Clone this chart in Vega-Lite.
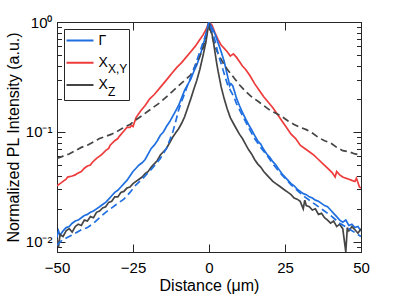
{
"$schema": "https://vega.github.io/schema/vega-lite/v6.json",
"width": 304, "height": 230,
"autosize": {"type": "none"},
"padding": {"left": 57, "top": 22, "right": 38, "bottom": 48},
"config": {
  "font": "Liberation Sans",
  "view": {"stroke": "#262626", "strokeWidth": 1},
  "axis": {"domainColor": "#262626", "tickColor": "#262626", "tickWidth": 1, "labelColor": "#000000", "titleColor": "#000000", "grid": false, "labelFontSize": 15, "titleFontSize": 16, "titleFontWeight": "normal"}
},
"data": {"values": [
{"distance":-50,"intensity":0.0324,"series":"X_X,Y","kind":"measured"},
{"distance":-49,"intensity":0.0339,"series":"X_X,Y","kind":"measured"},
{"distance":-48,"intensity":0.0355,"series":"X_X,Y","kind":"measured"},
{"distance":-47,"intensity":0.0372,"series":"X_X,Y","kind":"measured"},
{"distance":-46.5,"intensity":0.0389,"series":"X_X,Y","kind":"measured"},
{"distance":-45,"intensity":0.0398,"series":"X_X,Y","kind":"measured"},
{"distance":-44,"intensity":0.0407,"series":"X_X,Y","kind":"measured"},
{"distance":-43.5,"intensity":0.0417,"series":"X_X,Y","kind":"measured"},
{"distance":-42,"intensity":0.0437,"series":"X_X,Y","kind":"measured"},
{"distance":-41,"intensity":0.0468,"series":"X_X,Y","kind":"measured"},
{"distance":-40,"intensity":0.0490,"series":"X_X,Y","kind":"measured"},
{"distance":-39,"intensity":0.0501,"series":"X_X,Y","kind":"measured"},
{"distance":-38.5,"intensity":0.0525,"series":"X_X,Y","kind":"measured"},
{"distance":-37,"intensity":0.0575,"series":"X_X,Y","kind":"measured"},
{"distance":-36,"intensity":0.0603,"series":"X_X,Y","kind":"measured"},
{"distance":-35.5,"intensity":0.0617,"series":"X_X,Y","kind":"measured"},
{"distance":-34,"intensity":0.0676,"series":"X_X,Y","kind":"measured"},
{"distance":-33,"intensity":0.0708,"series":"X_X,Y","kind":"measured"},
{"distance":-32.5,"intensity":0.0759,"series":"X_X,Y","kind":"measured"},
{"distance":-31,"intensity":0.0832,"series":"X_X,Y","kind":"measured"},
{"distance":-30,"intensity":0.0871,"series":"X_X,Y","kind":"measured"},
{"distance":-29.5,"intensity":0.0912,"series":"X_X,Y","kind":"measured"},
{"distance":-28,"intensity":0.102,"series":"X_X,Y","kind":"measured"},
{"distance":-27,"intensity":0.110,"series":"X_X,Y","kind":"measured"},
{"distance":-26,"intensity":0.110,"series":"X_X,Y","kind":"measured"},
{"distance":-25.5,"intensity":0.115,"series":"X_X,Y","kind":"measured"},
{"distance":-25,"intensity":0.112,"series":"X_X,Y","kind":"measured"},
{"distance":-24,"intensity":0.135,"series":"X_X,Y","kind":"measured"},
{"distance":-22.5,"intensity":0.155,"series":"X_X,Y","kind":"measured"},
{"distance":-21,"intensity":0.174,"series":"X_X,Y","kind":"measured"},
{"distance":-19.5,"intensity":0.200,"series":"X_X,Y","kind":"measured"},
{"distance":-18,"intensity":0.219,"series":"X_X,Y","kind":"measured"},
{"distance":-16.5,"intensity":0.245,"series":"X_X,Y","kind":"measured"},
{"distance":-15,"intensity":0.275,"series":"X_X,Y","kind":"measured"},
{"distance":-13.5,"intensity":0.309,"series":"X_X,Y","kind":"measured"},
{"distance":-12,"intensity":0.347,"series":"X_X,Y","kind":"measured"},
{"distance":-10.5,"intensity":0.389,"series":"X_X,Y","kind":"measured"},
{"distance":-9,"intensity":0.427,"series":"X_X,Y","kind":"measured"},
{"distance":-7.5,"intensity":0.479,"series":"X_X,Y","kind":"measured"},
{"distance":-6,"intensity":0.537,"series":"X_X,Y","kind":"measured"},
{"distance":-4.5,"intensity":0.603,"series":"X_X,Y","kind":"measured"},
{"distance":-3,"intensity":0.692,"series":"X_X,Y","kind":"measured"},
{"distance":-2,"intensity":0.759,"series":"X_X,Y","kind":"measured"},
{"distance":-1,"intensity":0.851,"series":"X_X,Y","kind":"measured"},
{"distance":0,"intensity":1,"series":"X_X,Y","kind":"measured"},
{"distance":1,"intensity":0.933,"series":"X_X,Y","kind":"measured"},
{"distance":2,"intensity":0.794,"series":"X_X,Y","kind":"measured"},
{"distance":3,"intensity":0.692,"series":"X_X,Y","kind":"measured"},
{"distance":4,"intensity":0.617,"series":"X_X,Y","kind":"measured"},
{"distance":5,"intensity":0.575,"series":"X_X,Y","kind":"measured"},
{"distance":6,"intensity":0.537,"series":"X_X,Y","kind":"measured"},
{"distance":7,"intensity":0.490,"series":"X_X,Y","kind":"measured"},
{"distance":8,"intensity":0.513,"series":"X_X,Y","kind":"measured"},
{"distance":9,"intensity":0.479,"series":"X_X,Y","kind":"measured"},
{"distance":10,"intensity":0.437,"series":"X_X,Y","kind":"measured"},
{"distance":11,"intensity":0.398,"series":"X_X,Y","kind":"measured"},
{"distance":12,"intensity":0.372,"series":"X_X,Y","kind":"measured"},
{"distance":13.5,"intensity":0.324,"series":"X_X,Y","kind":"measured"},
{"distance":15,"intensity":0.275,"series":"X_X,Y","kind":"measured"},
{"distance":16.5,"intensity":0.240,"series":"X_X,Y","kind":"measured"},
{"distance":18,"intensity":0.209,"series":"X_X,Y","kind":"measured"},
{"distance":19.5,"intensity":0.186,"series":"X_X,Y","kind":"measured"},
{"distance":21,"intensity":0.166,"series":"X_X,Y","kind":"measured"},
{"distance":22.5,"intensity":0.145,"series":"X_X,Y","kind":"measured"},
{"distance":24,"intensity":0.126,"series":"X_X,Y","kind":"measured"},
{"distance":25.5,"intensity":0.110,"series":"X_X,Y","kind":"measured"},
{"distance":27,"intensity":0.0955,"series":"X_X,Y","kind":"measured"},
{"distance":28.5,"intensity":0.0871,"series":"X_X,Y","kind":"measured"},
{"distance":30,"intensity":0.0759,"series":"X_X,Y","kind":"measured"},
{"distance":31.5,"intensity":0.0708,"series":"X_X,Y","kind":"measured"},
{"distance":33,"intensity":0.0661,"series":"X_X,Y","kind":"measured"},
{"distance":34.5,"intensity":0.0617,"series":"X_X,Y","kind":"measured"},
{"distance":36,"intensity":0.0562,"series":"X_X,Y","kind":"measured"},
{"distance":37.5,"intensity":0.0513,"series":"X_X,Y","kind":"measured"},
{"distance":39,"intensity":0.0468,"series":"X_X,Y","kind":"measured"},
{"distance":40.5,"intensity":0.0427,"series":"X_X,Y","kind":"measured"},
{"distance":41.5,"intensity":0.0389,"series":"X_X,Y","kind":"measured"},
{"distance":42,"intensity":0.0437,"series":"X_X,Y","kind":"measured"},
{"distance":43,"intensity":0.0407,"series":"X_X,Y","kind":"measured"},
{"distance":44,"intensity":0.0389,"series":"X_X,Y","kind":"measured"},
{"distance":45,"intensity":0.0380,"series":"X_X,Y","kind":"measured"},
{"distance":46,"intensity":0.0372,"series":"X_X,Y","kind":"measured"},
{"distance":47,"intensity":0.0363,"series":"X_X,Y","kind":"measured"},
{"distance":48,"intensity":0.0355,"series":"X_X,Y","kind":"measured"},
{"distance":48.5,"intensity":0.0380,"series":"X_X,Y","kind":"measured"},
{"distance":49.5,"intensity":0.0316,"series":"X_X,Y","kind":"measured"},
{"distance":50,"intensity":0.0309,"series":"X_X,Y","kind":"measured"},

{"distance":-50,"intensity":0.0575,"series":"X_Z","kind":"fit"},
{"distance":-48,"intensity":0.0603,"series":"X_Z","kind":"fit"},
{"distance":-46,"intensity":0.0631,"series":"X_Z","kind":"fit"},
{"distance":-44,"intensity":0.0676,"series":"X_Z","kind":"fit"},
{"distance":-42,"intensity":0.0724,"series":"X_Z","kind":"fit"},
{"distance":-40,"intensity":0.0759,"series":"X_Z","kind":"fit"},
{"distance":-38,"intensity":0.0813,"series":"X_Z","kind":"fit"},
{"distance":-36,"intensity":0.0871,"series":"X_Z","kind":"fit"},
{"distance":-34,"intensity":0.0912,"series":"X_Z","kind":"fit"},
{"distance":-32,"intensity":0.0955,"series":"X_Z","kind":"fit"},
{"distance":-30,"intensity":0.102,"series":"X_Z","kind":"fit"},
{"distance":-28,"intensity":0.110,"series":"X_Z","kind":"fit"},
{"distance":-26,"intensity":0.117,"series":"X_Z","kind":"fit"},
{"distance":-24,"intensity":0.129,"series":"X_Z","kind":"fit"},
{"distance":-22,"intensity":0.141,"series":"X_Z","kind":"fit"},
{"distance":-20,"intensity":0.155,"series":"X_Z","kind":"fit"},
{"distance":-18,"intensity":0.170,"series":"X_Z","kind":"fit"},
{"distance":-16,"intensity":0.186,"series":"X_Z","kind":"fit"},
{"distance":-14,"intensity":0.209,"series":"X_Z","kind":"fit"},
{"distance":-12,"intensity":0.234,"series":"X_Z","kind":"fit"},
{"distance":-10,"intensity":0.263,"series":"X_Z","kind":"fit"},
{"distance":-8,"intensity":0.295,"series":"X_Z","kind":"fit"},
{"distance":-6,"intensity":0.331,"series":"X_Z","kind":"fit"},
{"distance":-4,"intensity":0.427,"series":"X_Z","kind":"fit"},
{"distance":-3,"intensity":0.490,"series":"X_Z","kind":"fit"},
{"distance":-2,"intensity":0.575,"series":"X_Z","kind":"fit"},
{"distance":-1,"intensity":0.724,"series":"X_Z","kind":"fit"},
{"distance":-0.5,"intensity":0.832,"series":"X_Z","kind":"fit"},
{"distance":0,"intensity":1,"series":"X_Z","kind":"fit"},
{"distance":0.5,"intensity":0.851,"series":"X_Z","kind":"fit"},
{"distance":1,"intensity":0.741,"series":"X_Z","kind":"fit"},
{"distance":2,"intensity":0.603,"series":"X_Z","kind":"fit"},
{"distance":3,"intensity":0.513,"series":"X_Z","kind":"fit"},
{"distance":4,"intensity":0.457,"series":"X_Z","kind":"fit"},
{"distance":5,"intensity":0.407,"series":"X_Z","kind":"fit"},
{"distance":6,"intensity":0.372,"series":"X_Z","kind":"fit"},
{"distance":8,"intensity":0.316,"series":"X_Z","kind":"fit"},
{"distance":10,"intensity":0.269,"series":"X_Z","kind":"fit"},
{"distance":12,"intensity":0.234,"series":"X_Z","kind":"fit"},
{"distance":14,"intensity":0.209,"series":"X_Z","kind":"fit"},
{"distance":16,"intensity":0.191,"series":"X_Z","kind":"fit"},
{"distance":18,"intensity":0.174,"series":"X_Z","kind":"fit"},
{"distance":20,"intensity":0.158,"series":"X_Z","kind":"fit"},
{"distance":22,"intensity":0.148,"series":"X_Z","kind":"fit"},
{"distance":24,"intensity":0.138,"series":"X_Z","kind":"fit"},
{"distance":26,"intensity":0.126,"series":"X_Z","kind":"fit"},
{"distance":28,"intensity":0.117,"series":"X_Z","kind":"fit"},
{"distance":30,"intensity":0.110,"series":"X_Z","kind":"fit"},
{"distance":32,"intensity":0.105,"series":"X_Z","kind":"fit"},
{"distance":34,"intensity":0.0977,"series":"X_Z","kind":"fit"},
{"distance":36,"intensity":0.0891,"series":"X_Z","kind":"fit"},
{"distance":38,"intensity":0.0832,"series":"X_Z","kind":"fit"},
{"distance":40,"intensity":0.0794,"series":"X_Z","kind":"fit"},
{"distance":42,"intensity":0.0724,"series":"X_Z","kind":"fit"},
{"distance":44,"intensity":0.0676,"series":"X_Z","kind":"fit"},
{"distance":46,"intensity":0.0661,"series":"X_Z","kind":"fit"},
{"distance":48,"intensity":0.0631,"series":"X_Z","kind":"fit"},
{"distance":50,"intensity":0.0617,"series":"X_Z","kind":"fit"},

{"distance":-50,"intensity":0.0110,"series":"Γ","kind":"measured"},
{"distance":-49.5,"intensity":0.0126,"series":"Γ","kind":"measured"},
{"distance":-49,"intensity":0.0115,"series":"Γ","kind":"measured"},
{"distance":-48,"intensity":0.0126,"series":"Γ","kind":"measured"},
{"distance":-47,"intensity":0.0135,"series":"Γ","kind":"measured"},
{"distance":-46,"intensity":0.0138,"series":"Γ","kind":"measured"},
{"distance":-45,"intensity":0.0148,"series":"Γ","kind":"measured"},
{"distance":-44,"intensity":0.0155,"series":"Γ","kind":"measured"},
{"distance":-43,"intensity":0.0158,"series":"Γ","kind":"measured"},
{"distance":-42,"intensity":0.0166,"series":"Γ","kind":"measured"},
{"distance":-41,"intensity":0.0174,"series":"Γ","kind":"measured"},
{"distance":-40,"intensity":0.0178,"series":"Γ","kind":"measured"},
{"distance":-39,"intensity":0.0186,"series":"Γ","kind":"measured"},
{"distance":-38,"intensity":0.0191,"series":"Γ","kind":"measured"},
{"distance":-37,"intensity":0.0200,"series":"Γ","kind":"measured"},
{"distance":-36,"intensity":0.0209,"series":"Γ","kind":"measured"},
{"distance":-35,"intensity":0.0219,"series":"Γ","kind":"measured"},
{"distance":-34,"intensity":0.0229,"series":"Γ","kind":"measured"},
{"distance":-33,"intensity":0.0245,"series":"Γ","kind":"measured"},
{"distance":-32,"intensity":0.0263,"series":"Γ","kind":"measured"},
{"distance":-31,"intensity":0.0282,"series":"Γ","kind":"measured"},
{"distance":-30,"intensity":0.0295,"series":"Γ","kind":"measured"},
{"distance":-29,"intensity":0.0316,"series":"Γ","kind":"measured"},
{"distance":-28,"intensity":0.0339,"series":"Γ","kind":"measured"},
{"distance":-27,"intensity":0.0363,"series":"Γ","kind":"measured"},
{"distance":-26,"intensity":0.0398,"series":"Γ","kind":"measured"},
{"distance":-25,"intensity":0.0437,"series":"Γ","kind":"measured"},
{"distance":-24,"intensity":0.0468,"series":"Γ","kind":"measured"},
{"distance":-23,"intensity":0.0501,"series":"Γ","kind":"measured"},
{"distance":-22,"intensity":0.0525,"series":"Γ","kind":"measured"},
{"distance":-21,"intensity":0.0562,"series":"Γ","kind":"measured"},
{"distance":-20,"intensity":0.0631,"series":"Γ","kind":"measured"},
{"distance":-19,"intensity":0.0708,"series":"Γ","kind":"measured"},
{"distance":-18,"intensity":0.0759,"series":"Γ","kind":"measured"},
{"distance":-17,"intensity":0.0832,"series":"Γ","kind":"measured"},
{"distance":-16,"intensity":0.0933,"series":"Γ","kind":"measured"},
{"distance":-15,"intensity":0.100,"series":"Γ","kind":"measured"},
{"distance":-14,"intensity":0.112,"series":"Γ","kind":"measured"},
{"distance":-13,"intensity":0.123,"series":"Γ","kind":"measured"},
{"distance":-12,"intensity":0.138,"series":"Γ","kind":"measured"},
{"distance":-11,"intensity":0.155,"series":"Γ","kind":"measured"},
{"distance":-10,"intensity":0.174,"series":"Γ","kind":"measured"},
{"distance":-9,"intensity":0.204,"series":"Γ","kind":"measured"},
{"distance":-8,"intensity":0.240,"series":"Γ","kind":"measured"},
{"distance":-7,"intensity":0.269,"series":"Γ","kind":"measured"},
{"distance":-6,"intensity":0.302,"series":"Γ","kind":"measured"},
{"distance":-5,"intensity":0.355,"series":"Γ","kind":"measured"},
{"distance":-4,"intensity":0.407,"series":"Γ","kind":"measured"},
{"distance":-3,"intensity":0.490,"series":"Γ","kind":"measured"},
{"distance":-2,"intensity":0.603,"series":"Γ","kind":"measured"},
{"distance":-1,"intensity":0.776,"series":"Γ","kind":"measured"},
{"distance":0,"intensity":1,"series":"Γ","kind":"measured"},
{"distance":1,"intensity":0.891,"series":"Γ","kind":"measured"},
{"distance":2,"intensity":0.776,"series":"Γ","kind":"measured"},
{"distance":3,"intensity":0.646,"series":"Γ","kind":"measured"},
{"distance":4,"intensity":0.537,"series":"Γ","kind":"measured"},
{"distance":5,"intensity":0.437,"series":"Γ","kind":"measured"},
{"distance":6,"intensity":0.331,"series":"Γ","kind":"measured"},
{"distance":6.8,"intensity":0.263,"series":"Γ","kind":"measured"},
{"distance":7.2,"intensity":0.275,"series":"Γ","kind":"measured"},
{"distance":7.8,"intensity":0.263,"series":"Γ","kind":"measured"},
{"distance":8.5,"intensity":0.229,"series":"Γ","kind":"measured"},
{"distance":9,"intensity":0.204,"series":"Γ","kind":"measured"},
{"distance":10,"intensity":0.174,"series":"Γ","kind":"measured"},
{"distance":11,"intensity":0.151,"series":"Γ","kind":"measured"},
{"distance":12,"intensity":0.132,"series":"Γ","kind":"measured"},
{"distance":13,"intensity":0.117,"series":"Γ","kind":"measured"},
{"distance":14,"intensity":0.105,"series":"Γ","kind":"measured"},
{"distance":15,"intensity":0.0933,"series":"Γ","kind":"measured"},
{"distance":16,"intensity":0.0832,"series":"Γ","kind":"measured"},
{"distance":17,"intensity":0.0776,"series":"Γ","kind":"measured"},
{"distance":18,"intensity":0.0692,"series":"Γ","kind":"measured"},
{"distance":19,"intensity":0.0631,"series":"Γ","kind":"measured"},
{"distance":20,"intensity":0.0589,"series":"Γ","kind":"measured"},
{"distance":21,"intensity":0.0537,"series":"Γ","kind":"measured"},
{"distance":22,"intensity":0.0501,"series":"Γ","kind":"measured"},
{"distance":23,"intensity":0.0457,"series":"Γ","kind":"measured"},
{"distance":24,"intensity":0.0417,"series":"Γ","kind":"measured"},
{"distance":25,"intensity":0.0389,"series":"Γ","kind":"measured"},
{"distance":26,"intensity":0.0363,"series":"Γ","kind":"measured"},
{"distance":27,"intensity":0.0339,"series":"Γ","kind":"measured"},
{"distance":28,"intensity":0.0324,"series":"Γ","kind":"measured"},
{"distance":29,"intensity":0.0302,"series":"Γ","kind":"measured"},
{"distance":30,"intensity":0.0288,"series":"Γ","kind":"measured"},
{"distance":31,"intensity":0.0275,"series":"Γ","kind":"measured"},
{"distance":32,"intensity":0.0269,"series":"Γ","kind":"measured"},
{"distance":33,"intensity":0.0257,"series":"Γ","kind":"measured"},
{"distance":34,"intensity":0.0251,"series":"Γ","kind":"measured"},
{"distance":35,"intensity":0.0240,"series":"Γ","kind":"measured"},
{"distance":36,"intensity":0.0234,"series":"Γ","kind":"measured"},
{"distance":37,"intensity":0.0224,"series":"Γ","kind":"measured"},
{"distance":38,"intensity":0.0214,"series":"Γ","kind":"measured"},
{"distance":39,"intensity":0.0209,"series":"Γ","kind":"measured"},
{"distance":40,"intensity":0.0195,"series":"Γ","kind":"measured"},
{"distance":41,"intensity":0.0182,"series":"Γ","kind":"measured"},
{"distance":42,"intensity":0.0170,"series":"Γ","kind":"measured"},
{"distance":43,"intensity":0.0158,"series":"Γ","kind":"measured"},
{"distance":44,"intensity":0.0151,"series":"Γ","kind":"measured"},
{"distance":45,"intensity":0.0158,"series":"Γ","kind":"measured"},
{"distance":46,"intensity":0.0141,"series":"Γ","kind":"measured"},
{"distance":47,"intensity":0.0145,"series":"Γ","kind":"measured"},
{"distance":48,"intensity":0.0135,"series":"Γ","kind":"measured"},
{"distance":49,"intensity":0.0138,"series":"Γ","kind":"measured"},
{"distance":50,"intensity":0.0126,"series":"Γ","kind":"measured"},

{"distance":-50,"intensity":0.00933,"series":"Γ","kind":"fit"},
{"distance":-49,"intensity":0.0100,"series":"Γ","kind":"fit"},
{"distance":-48,"intensity":0.0105,"series":"Γ","kind":"fit"},
{"distance":-46,"intensity":0.0112,"series":"Γ","kind":"fit"},
{"distance":-44,"intensity":0.0120,"series":"Γ","kind":"fit"},
{"distance":-42,"intensity":0.0129,"series":"Γ","kind":"fit"},
{"distance":-40,"intensity":0.0135,"series":"Γ","kind":"fit"},
{"distance":-38,"intensity":0.0148,"series":"Γ","kind":"fit"},
{"distance":-36,"intensity":0.0166,"series":"Γ","kind":"fit"},
{"distance":-34,"intensity":0.0186,"series":"Γ","kind":"fit"},
{"distance":-32,"intensity":0.0204,"series":"Γ","kind":"fit"},
{"distance":-30,"intensity":0.0224,"series":"Γ","kind":"fit"},
{"distance":-28,"intensity":0.0245,"series":"Γ","kind":"fit"},
{"distance":-26,"intensity":0.0282,"series":"Γ","kind":"fit"},
{"distance":-24,"intensity":0.0331,"series":"Γ","kind":"fit"},
{"distance":-22,"intensity":0.0372,"series":"Γ","kind":"fit"},
{"distance":-20,"intensity":0.0427,"series":"Γ","kind":"fit"},
{"distance":-18,"intensity":0.0490,"series":"Γ","kind":"fit"},
{"distance":-16,"intensity":0.0575,"series":"Γ","kind":"fit"},
{"distance":-14,"intensity":0.0708,"series":"Γ","kind":"fit"},
{"distance":-13,"intensity":0.0832,"series":"Γ","kind":"fit"},
{"distance":-12,"intensity":0.0977,"series":"Γ","kind":"fit"},
{"distance":-11,"intensity":0.123,"series":"Γ","kind":"fit"},
{"distance":-10,"intensity":0.158,"series":"Γ","kind":"fit"},
{"distance":-9,"intensity":0.191,"series":"Γ","kind":"fit"},
{"distance":-8,"intensity":0.224,"series":"Γ","kind":"fit"},
{"distance":-7,"intensity":0.269,"series":"Γ","kind":"fit"},
{"distance":-6,"intensity":0.316,"series":"Γ","kind":"fit"},
{"distance":-5,"intensity":0.372,"series":"Γ","kind":"fit"},
{"distance":-4,"intensity":0.447,"series":"Γ","kind":"fit"},
{"distance":-3,"intensity":0.537,"series":"Γ","kind":"fit"},
{"distance":-2,"intensity":0.646,"series":"Γ","kind":"fit"},
{"distance":-1,"intensity":0.776,"series":"Γ","kind":"fit"},
{"distance":0,"intensity":1,"series":"Γ","kind":"fit"},
{"distance":1,"intensity":0.832,"series":"Γ","kind":"fit"},
{"distance":2,"intensity":0.676,"series":"Γ","kind":"fit"},
{"distance":3,"intensity":0.513,"series":"Γ","kind":"fit"},
{"distance":4,"intensity":0.417,"series":"Γ","kind":"fit"},
{"distance":5,"intensity":0.339,"series":"Γ","kind":"fit"},
{"distance":6,"intensity":0.275,"series":"Γ","kind":"fit"},
{"distance":7,"intensity":0.240,"series":"Γ","kind":"fit"},
{"distance":8,"intensity":0.214,"series":"Γ","kind":"fit"},
{"distance":9,"intensity":0.182,"series":"Γ","kind":"fit"},
{"distance":11,"intensity":0.141,"series":"Γ","kind":"fit"},
{"distance":13,"intensity":0.110,"series":"Γ","kind":"fit"},
{"distance":15,"intensity":0.0871,"series":"Γ","kind":"fit"},
{"distance":17,"intensity":0.0724,"series":"Γ","kind":"fit"},
{"distance":19,"intensity":0.0617,"series":"Γ","kind":"fit"},
{"distance":21,"intensity":0.0513,"series":"Γ","kind":"fit"},
{"distance":23,"intensity":0.0437,"series":"Γ","kind":"fit"},
{"distance":25,"intensity":0.0380,"series":"Γ","kind":"fit"},
{"distance":27,"intensity":0.0331,"series":"Γ","kind":"fit"},
{"distance":29,"intensity":0.0295,"series":"Γ","kind":"fit"},
{"distance":31,"intensity":0.0263,"series":"Γ","kind":"fit"},
{"distance":34,"intensity":0.0229,"series":"Γ","kind":"fit"},
{"distance":37,"intensity":0.0200,"series":"Γ","kind":"fit"},
{"distance":40,"intensity":0.0174,"series":"Γ","kind":"fit"},
{"distance":43,"intensity":0.0148,"series":"Γ","kind":"fit"},
{"distance":46,"intensity":0.0132,"series":"Γ","kind":"fit"},
{"distance":50,"intensity":0.0112,"series":"Γ","kind":"fit"},

{"distance":-50,"intensity":0.0107,"series":"X_Z","kind":"measured"},
{"distance":-49.5,"intensity":0.00891,"series":"X_Z","kind":"measured"},
{"distance":-49,"intensity":0.0117,"series":"X_Z","kind":"measured"},
{"distance":-48,"intensity":0.0112,"series":"X_Z","kind":"measured"},
{"distance":-47,"intensity":0.0126,"series":"X_Z","kind":"measured"},
{"distance":-46,"intensity":0.0132,"series":"X_Z","kind":"measured"},
{"distance":-45,"intensity":0.0123,"series":"X_Z","kind":"measured"},
{"distance":-44,"intensity":0.0138,"series":"X_Z","kind":"measured"},
{"distance":-43,"intensity":0.0145,"series":"X_Z","kind":"measured"},
{"distance":-42,"intensity":0.0141,"series":"X_Z","kind":"measured"},
{"distance":-41,"intensity":0.0158,"series":"X_Z","kind":"measured"},
{"distance":-40,"intensity":0.0155,"series":"X_Z","kind":"measured"},
{"distance":-39,"intensity":0.0170,"series":"X_Z","kind":"measured"},
{"distance":-38,"intensity":0.0166,"series":"X_Z","kind":"measured"},
{"distance":-37,"intensity":0.0186,"series":"X_Z","kind":"measured"},
{"distance":-36,"intensity":0.0191,"series":"X_Z","kind":"measured"},
{"distance":-35,"intensity":0.0204,"series":"X_Z","kind":"measured"},
{"distance":-34,"intensity":0.0209,"series":"X_Z","kind":"measured"},
{"distance":-33,"intensity":0.0229,"series":"X_Z","kind":"measured"},
{"distance":-32,"intensity":0.0234,"series":"X_Z","kind":"measured"},
{"distance":-31,"intensity":0.0257,"series":"X_Z","kind":"measured"},
{"distance":-30,"intensity":0.0257,"series":"X_Z","kind":"measured"},
{"distance":-29,"intensity":0.0282,"series":"X_Z","kind":"measured"},
{"distance":-28,"intensity":0.0288,"series":"X_Z","kind":"measured"},
{"distance":-27,"intensity":0.0309,"series":"X_Z","kind":"measured"},
{"distance":-26,"intensity":0.0316,"series":"X_Z","kind":"measured"},
{"distance":-25,"intensity":0.0339,"series":"X_Z","kind":"measured"},
{"distance":-24,"intensity":0.0355,"series":"X_Z","kind":"measured"},
{"distance":-23,"intensity":0.0372,"series":"X_Z","kind":"measured"},
{"distance":-22,"intensity":0.0389,"series":"X_Z","kind":"measured"},
{"distance":-21,"intensity":0.0417,"series":"X_Z","kind":"measured"},
{"distance":-20,"intensity":0.0437,"series":"X_Z","kind":"measured"},
{"distance":-19,"intensity":0.0479,"series":"X_Z","kind":"measured"},
{"distance":-18,"intensity":0.0513,"series":"X_Z","kind":"measured"},
{"distance":-17,"intensity":0.0550,"series":"X_Z","kind":"measured"},
{"distance":-16,"intensity":0.0617,"series":"X_Z","kind":"measured"},
{"distance":-15,"intensity":0.0661,"series":"X_Z","kind":"measured"},
{"distance":-14,"intensity":0.0708,"series":"X_Z","kind":"measured"},
{"distance":-13,"intensity":0.0794,"series":"X_Z","kind":"measured"},
{"distance":-12,"intensity":0.0891,"series":"X_Z","kind":"measured"},
{"distance":-11,"intensity":0.0977,"series":"X_Z","kind":"measured"},
{"distance":-10,"intensity":0.107,"series":"X_Z","kind":"measured"},
{"distance":-9,"intensity":0.120,"series":"X_Z","kind":"measured"},
{"distance":-8,"intensity":0.138,"series":"X_Z","kind":"measured"},
{"distance":-7,"intensity":0.166,"series":"X_Z","kind":"measured"},
{"distance":-6,"intensity":0.200,"series":"X_Z","kind":"measured"},
{"distance":-5,"intensity":0.245,"series":"X_Z","kind":"measured"},
{"distance":-4,"intensity":0.295,"series":"X_Z","kind":"measured"},
{"distance":-3,"intensity":0.372,"series":"X_Z","kind":"measured"},
{"distance":-2,"intensity":0.490,"series":"X_Z","kind":"measured"},
{"distance":-1,"intensity":0.661,"series":"X_Z","kind":"measured"},
{"distance":-0.5,"intensity":0.813,"series":"X_Z","kind":"measured"},
{"distance":0,"intensity":1,"series":"X_Z","kind":"measured"},
{"distance":0.5,"intensity":0.871,"series":"X_Z","kind":"measured"},
{"distance":1,"intensity":0.776,"series":"X_Z","kind":"measured"},
{"distance":1.5,"intensity":0.646,"series":"X_Z","kind":"measured"},
{"distance":2,"intensity":0.525,"series":"X_Z","kind":"measured"},
{"distance":2.5,"intensity":0.427,"series":"X_Z","kind":"measured"},
{"distance":3,"intensity":0.355,"series":"X_Z","kind":"measured"},
{"distance":3.5,"intensity":0.302,"series":"X_Z","kind":"measured"},
{"distance":4,"intensity":0.257,"series":"X_Z","kind":"measured"},
{"distance":5,"intensity":0.200,"series":"X_Z","kind":"measured"},
{"distance":6,"intensity":0.162,"series":"X_Z","kind":"measured"},
{"distance":7,"intensity":0.135,"series":"X_Z","kind":"measured"},
{"distance":8,"intensity":0.120,"series":"X_Z","kind":"measured"},
{"distance":9,"intensity":0.107,"series":"X_Z","kind":"measured"},
{"distance":10,"intensity":0.0955,"series":"X_Z","kind":"measured"},
{"distance":11,"intensity":0.0871,"series":"X_Z","kind":"measured"},
{"distance":12,"intensity":0.0776,"series":"X_Z","kind":"measured"},
{"distance":13,"intensity":0.0692,"series":"X_Z","kind":"measured"},
{"distance":14,"intensity":0.0631,"series":"X_Z","kind":"measured"},
{"distance":15,"intensity":0.0562,"series":"X_Z","kind":"measured"},
{"distance":16,"intensity":0.0513,"series":"X_Z","kind":"measured"},
{"distance":17,"intensity":0.0479,"series":"X_Z","kind":"measured"},
{"distance":18,"intensity":0.0437,"series":"X_Z","kind":"measured"},
{"distance":19,"intensity":0.0407,"series":"X_Z","kind":"measured"},
{"distance":20,"intensity":0.0380,"series":"X_Z","kind":"measured"},
{"distance":21,"intensity":0.0355,"series":"X_Z","kind":"measured"},
{"distance":22,"intensity":0.0339,"series":"X_Z","kind":"measured"},
{"distance":23,"intensity":0.0324,"series":"X_Z","kind":"measured"},
{"distance":24,"intensity":0.0309,"series":"X_Z","kind":"measured"},
{"distance":25,"intensity":0.0295,"series":"X_Z","kind":"measured"},
{"distance":26,"intensity":0.0282,"series":"X_Z","kind":"measured"},
{"distance":27,"intensity":0.0269,"series":"X_Z","kind":"measured"},
{"distance":28,"intensity":0.0251,"series":"X_Z","kind":"measured"},
{"distance":29,"intensity":0.0245,"series":"X_Z","kind":"measured"},
{"distance":30,"intensity":0.0234,"series":"X_Z","kind":"measured"},
{"distance":31,"intensity":0.0200,"series":"X_Z","kind":"measured"},
{"distance":31.5,"intensity":0.0240,"series":"X_Z","kind":"measured"},
{"distance":32,"intensity":0.0214,"series":"X_Z","kind":"measured"},
{"distance":33,"intensity":0.0209,"series":"X_Z","kind":"measured"},
{"distance":34,"intensity":0.0195,"series":"X_Z","kind":"measured"},
{"distance":35,"intensity":0.0200,"series":"X_Z","kind":"measured"},
{"distance":36,"intensity":0.0178,"series":"X_Z","kind":"measured"},
{"distance":37,"intensity":0.0182,"series":"X_Z","kind":"measured"},
{"distance":38,"intensity":0.0166,"series":"X_Z","kind":"measured"},
{"distance":39,"intensity":0.0158,"series":"X_Z","kind":"measured"},
{"distance":40,"intensity":0.0148,"series":"X_Z","kind":"measured"},
{"distance":41,"intensity":0.0155,"series":"X_Z","kind":"measured"},
{"distance":42,"intensity":0.0138,"series":"X_Z","kind":"measured"},
{"distance":43,"intensity":0.0145,"series":"X_Z","kind":"measured"},
{"distance":44,"intensity":0.0132,"series":"X_Z","kind":"measured"},
{"distance":45,"intensity":0.00813,"series":"X_Z","kind":"measured"},
{"distance":45.5,"intensity":0.0135,"series":"X_Z","kind":"measured"},
{"distance":46,"intensity":0.0126,"series":"X_Z","kind":"measured"},
{"distance":47,"intensity":0.0138,"series":"X_Z","kind":"measured"},
{"distance":48,"intensity":0.0129,"series":"X_Z","kind":"measured"},
{"distance":49,"intensity":0.0120,"series":"X_Z","kind":"measured"},
{"distance":50,"intensity":0.0132,"series":"X_Z","kind":"measured"}
]},
"layer": [
  {
    "transform": [{"filter": "datum.kind == 'measured'"}],
    "mark": {"type": "line", "strokeWidth": 1.7, "clip": true},
    "encoding": {
      "x": {"field": "distance", "type": "quantitative", "scale": {"domain": [-50, 50], "nice": false},
        "axis": {"orient": "bottom", "values": [-50, -25, 0, 25, 50], "tickSize": -8, "labelPadding": 16, "title": "Distance (μm)", "titlePadding": 2, "labelFlush": false}},
      "y": {"field": "intensity", "type": "quantitative", "scale": {"type": "log", "domain": [0.0081, 1], "nice": false},
        "axis": {"orient": "left", "values": [0.009, 0.01, 0.02, 0.03, 0.04, 0.05, 0.06, 0.07, 0.08, 0.09, 0.1, 0.2, 0.3, 0.4, 0.5, 0.6, 0.7, 0.8, 0.9, 1],
          "tickSize": {"condition": {"test": "datum.value == 1 || datum.value == 0.1 || datum.value == 0.01", "value": -8}, "value": -4.5},
          "labelPadding": 13, "labelOverlap": false, "labelFlush": false,
          "labelExpr": "datum.value == 1 ? '10⁰' : datum.value == 0.1 ? '10⁻¹' : datum.value == 0.01 ? '10⁻²' : ''",
          "title": "Normalized PL Intensity (a.u.)", "titlePadding": 4}},
      "color": {"field": "series", "type": "nominal",
        "scale": {"domain": ["Γ", "X_X,Y", "X_Z"], "range": ["#1f6fe0", "#ee3b3b", "#454545"]},
        "legend": {"orient": "top-left", "offset": 7, "title": null, "symbolType": "stroke", "symbolSize": 729, "symbolStrokeWidth": 2,
          "clipHeight": 20, "rowPadding": 2.2, "padding": 1.5, "labelOffset": 4, "labelFontSize": 14, "labelColor": "#000000",
          "labelExpr": "datum.value == 'Γ' ? 'Γ' : 'X'", "zindex": 2}},
      "opacity": {"field": "series", "type": "nominal",
        "scale": {"domain": ["Γ", "X_X,Y", "X_Z"], "range": [1, 1, 1]},
        "legend": {"orient": "none", "legendX": 7, "legendY": 7, "title": null, "symbolType": "stroke", "symbolSize": 729, "symbolStrokeWidth": 2, "symbolStrokeColor": "transparent", "symbolFillColor": "transparent",
          "clipHeight": 20, "rowPadding": 2.2, "padding": 1.5, "labelOffset": 13.5, "labelFontSize": 12, "labelColor": "#000000", "labelBaseline": "top",
          "labelExpr": "datum.value == 'X_X,Y' ? 'X,Y' : datum.value == 'X_Z' ? 'Z' : ''",
          "strokeColor": "#262626", "fillColor": "#ffffff", "zindex": 1}}
    }
  },
  {
    "transform": [{"filter": "datum.kind == 'fit'"}],
    "mark": {"type": "line", "strokeWidth": 1.7, "strokeDash": [7, 4], "clip": true},
    "encoding": {
      "x": {"field": "distance", "type": "quantitative", "scale": {"domain": [-50, 50], "nice": false},
        "axis": {"orient": "top", "values": [-50, -25, 0, 25, 50], "tickSize": -8, "labels": false, "title": null}},
      "y": {"field": "intensity", "type": "quantitative", "scale": {"type": "log", "domain": [0.0081, 1], "nice": false},
        "axis": {"orient": "right", "values": [0.009, 0.01, 0.02, 0.03, 0.04, 0.05, 0.06, 0.07, 0.08, 0.09, 0.1, 0.2, 0.3, 0.4, 0.5, 0.6, 0.7, 0.8, 0.9, 1],
          "tickSize": {"condition": {"test": "datum.value == 1 || datum.value == 0.1 || datum.value == 0.01", "value": -8}, "value": -4.5},
          "labels": false, "title": null}},
      "color": {"field": "series", "type": "nominal", "legend": null}
    }
  }
],
"resolve": {"axis": {"x": "independent", "y": "independent"}}
}
